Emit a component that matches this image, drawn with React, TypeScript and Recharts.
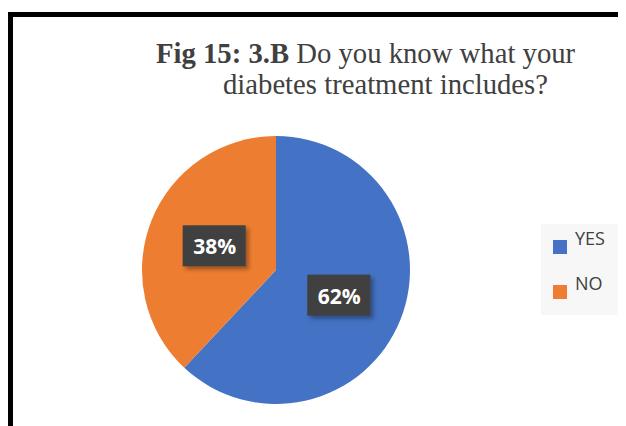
import React from 'react'
import { PieChart, Pie, Cell, Legend } from 'recharts'

const answers = ['YES', 'NO']
const shares = [62, 38]
const colors = ['#4472C4', '#ED7D31']

const data = answers.map((name, i) => ({ name, value: shares[i] }))

const RAD = Math.PI / 180

function BoxLabel(props: any) {
  const { cx, cy, midAngle, outerRadius, value } = props
  const r = outerRadius * 0.5
  const x = cx + r * Math.cos(-midAngle * RAD)
  const y = cy + r * Math.sin(-midAngle * RAD)
  return (
    <g>
      <rect x={x - 31} y={y - 20} width={63} height={41} fill="#3f3f3f" filter="url(#shadow)" />
      <text x={x + 1} y={y + 1} fill="#fff" fontFamily="'Open Sans', sans-serif" fontWeight={700}
        fontSize={21} textAnchor="middle" dominantBaseline="central">
        {value}%
      </text>
    </g>
  )
}

// keep the legend in data order (YES first)
function LegendBox({ payload }: any) {
  const items = [...(payload || [])].sort((a: any, b: any) => answers.indexOf(a.value) - answers.indexOf(b.value))
  return (
    <div style={{ width: 77, height: 91, background: '#f7f7f7', position: 'relative' }}>
      {items.map((p: any, i: number) => (
        <div key={p.value} style={{ position: 'absolute', left: 12, top: 16 + i * 45 }}>
          <div style={{ position: 'absolute', left: 0, top: 0, width: 14, height: 14, background: p.color }} />
          <span style={{ position: 'absolute', left: 22, top: -14, fontFamily: "'Open Sans', sans-serif",
            fontSize: 18, color: '#404040', whiteSpace: 'nowrap' }}>{p.value}</span>
        </div>
      ))}
    </div>
  )
}

const titleStyle: React.CSSProperties = {
  position: 'absolute', fontFamily: "'Liberation Serif', serif", fontSize: 28.7,
  color: '#404040', whiteSpace: 'nowrap', lineHeight: '32px'
}

export default function App() {
  return (
    <div style={{ position: 'relative', width: 618, height: 418, overflow: 'hidden', background: '#fff' }}>
      <div style={{ position: 'absolute', left: 0, top: 4, width: 640, height: 440,
        borderTop: '5px solid #000', borderLeft: '5px solid #000' }} />
      <div style={{ ...titleStyle, left: 148, top: 29 }}>
        <b>Fig 15: 3.B</b> Do you know what your
      </div>
      <div style={{ ...titleStyle, left: 215, top: 60 }}>
        diabetes treatment includes?
      </div>
      <div style={{ position: 'absolute', left: 0, top: 0 }}>
        <PieChart width={618} height={418} margin={{ top: 0, right: 0, bottom: 0, left: 0 }}>
          <defs>
            <filter id="shadow" x="-20%" y="-20%" width="150%" height="150%">
              <feDropShadow dx="3" dy="3" stdDeviation="2" floodColor="#000" floodOpacity="0.35" />
            </filter>
          </defs>
          <Pie data={data} dataKey="value" nameKey="name" cx={268} cy={262} outerRadius={134}
            startAngle={90} endAngle={-270} stroke="none" label={BoxLabel} labelLine={false}
            isAnimationActive={false}>
            {data.map((_, i) => <Cell key={i} fill={colors[i]} />)}
          </Pie>
          <Legend content={LegendBox} layout="vertical" align="right" verticalAlign="middle"
            wrapperStyle={{ left: 533, top: 216, width: 77, height: 91, right: 'auto', bottom: 'auto' }} />
        </PieChart>
      </div>
    </div>
  )
}
